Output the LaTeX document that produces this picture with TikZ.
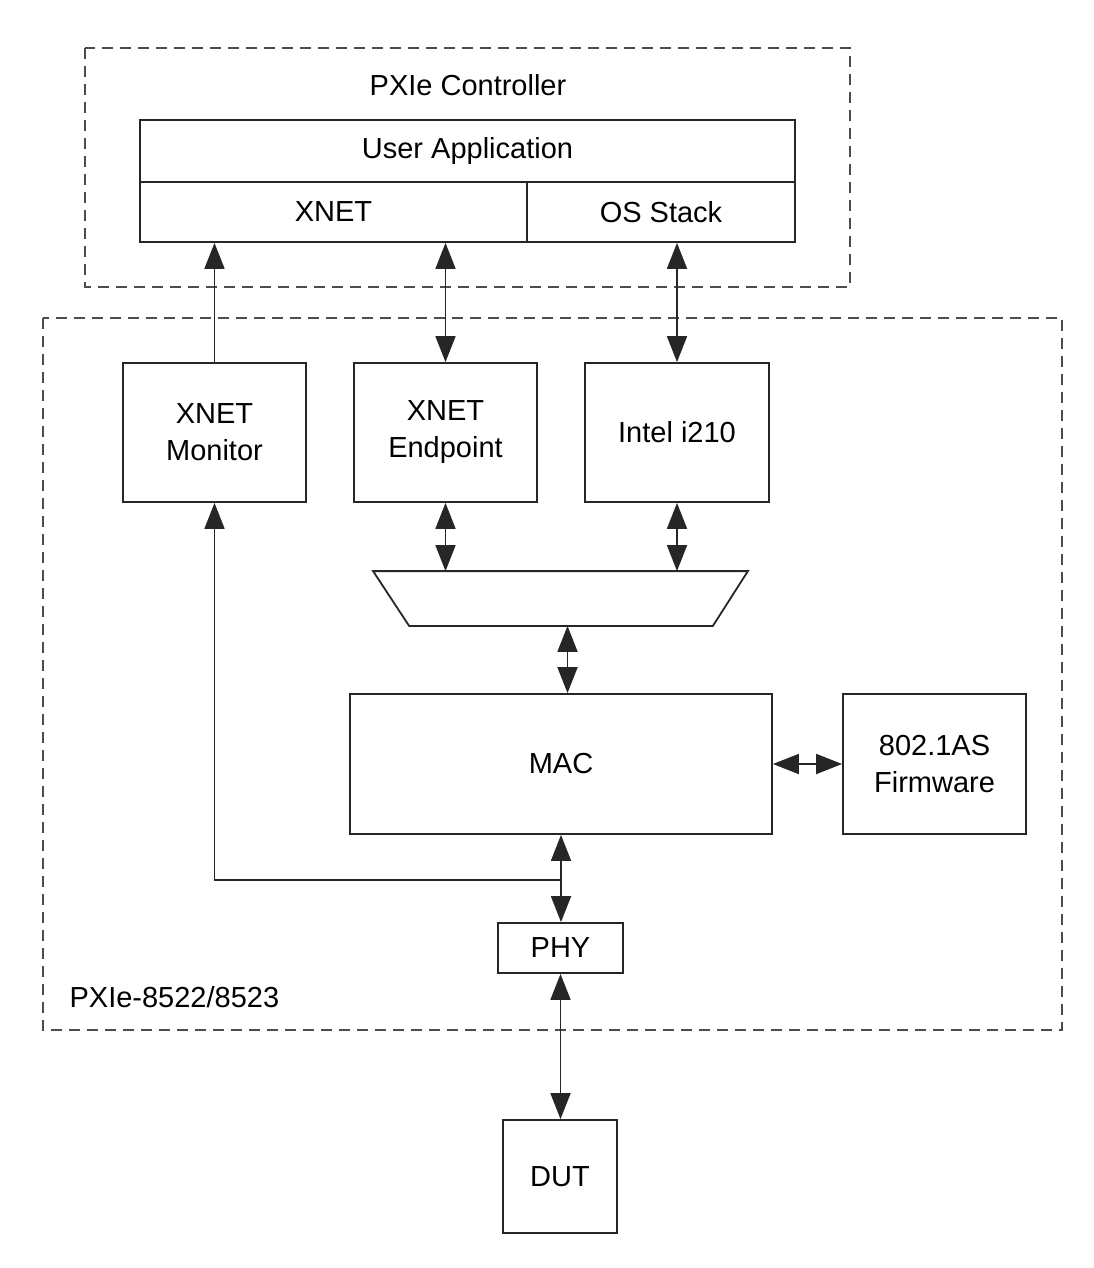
\documentclass[tikz,border=0pt]{standalone}
\usepackage{fontspec}
\setmainfont{Liberation Sans}
\usetikzlibrary{arrows.meta}

\begin{document}
\begin{tikzpicture}[x=0.5pt,y=-0.5pt,
  line width=0.9pt, draw=black!85,
  >={Triangle[length=13pt,width=10pt]},
  block/.style={draw, fill=white, inner sep=0pt, align=center,
    font=\fontsize{14.5}{18.5}\selectfont},
  region/.style={draw=black!70, dash pattern=on 5.5pt off 3.5pt},
  lbl/.style={font=\fontsize{14.5}{18.5}\selectfont}]

\useasboundingbox (0,0) rectangle (1093,1268);

% Dashed regions
\draw[region] (85,48) rectangle (850,287);
\draw[region] (43,318) rectangle (1062,1030);
\node[lbl] (ctrllbl) at (468,85) {PXIe Controller};
\node[lbl, anchor=west] (devlbl) at (62,997) {PXIe-8522/8523};

% Controller stack
\node[block, minimum width=327.5pt, minimum height=31pt] (ua) at (467.5,151) {User Application};
\node[block, minimum width=193.5pt, minimum height=30pt] (xnet) at (333.5,212) {XNET};
\node[block, minimum width=134pt, minimum height=30pt] (os) at (661,212) {OS Stack};

% Device blocks
\node[block, minimum width=91.5pt, minimum height=69.5pt] (mon) at (214.5,432.5) {XNET\\Monitor};
\node[block, minimum width=91.5pt, minimum height=69.5pt] (ep) at (445.5,432.5) {XNET\\Endpoint};
\node[block, minimum width=92pt, minimum height=69.5pt] (i210) at (677,432.5) {Intel i210};

% Multiplexer
\node[minimum width=186.5pt, minimum height=26.5pt, inner sep=0pt] (mux) at (560.5,598.5) {};
\draw (mux.north west) -- (mux.north east) -- ([xshift=-17.5pt]mux.south east)
  -- ([xshift=18pt]mux.south west) -- cycle;

\node[block, minimum width=211pt, minimum height=70pt] (mac) at (561,764) {MAC};
\node[block, minimum width=91.5pt, minimum height=70pt] (fw) at (934.5,764) {802.1AS\\Firmware};
\node[block, minimum width=62.5pt, minimum height=25pt] (phy) at (560.5,948) {PHY};
\node[block, minimum width=57pt, minimum height=56.5pt] (dut) at (560,1176.5) {DUT};

% Links to controller
\draw[->] (mon.north) -- (mon.north |- xnet.south);
\draw[<->] (ep.north) -- (ep.north |- xnet.south);
\draw[<->] (i210.north) -- (i210.north |- os.south);

% Links through the multiplexer
\draw[<->] (ep.south) -- (ep.south |- mux.north);
\draw[<->] (i210.south) -- (i210.south |- mux.north);
\draw[<->] ([xshift=3.5pt]mux.south) -- ([xshift=3.5pt]mux.south |- mac.north);
\draw[<->] (mac.east) -- (fw.west);

% MAC to PHY, monitor tap
\draw[<->] (mac.south) -- (mac.south |- phy.north);
\coordinate (tap) at (561,880);
\draw[->] (tap) -| (mon.south);

% PHY to DUT
\draw[<->] (phy.south) -- (phy.south |- dut.north);

\end{tikzpicture}
\end{document}
